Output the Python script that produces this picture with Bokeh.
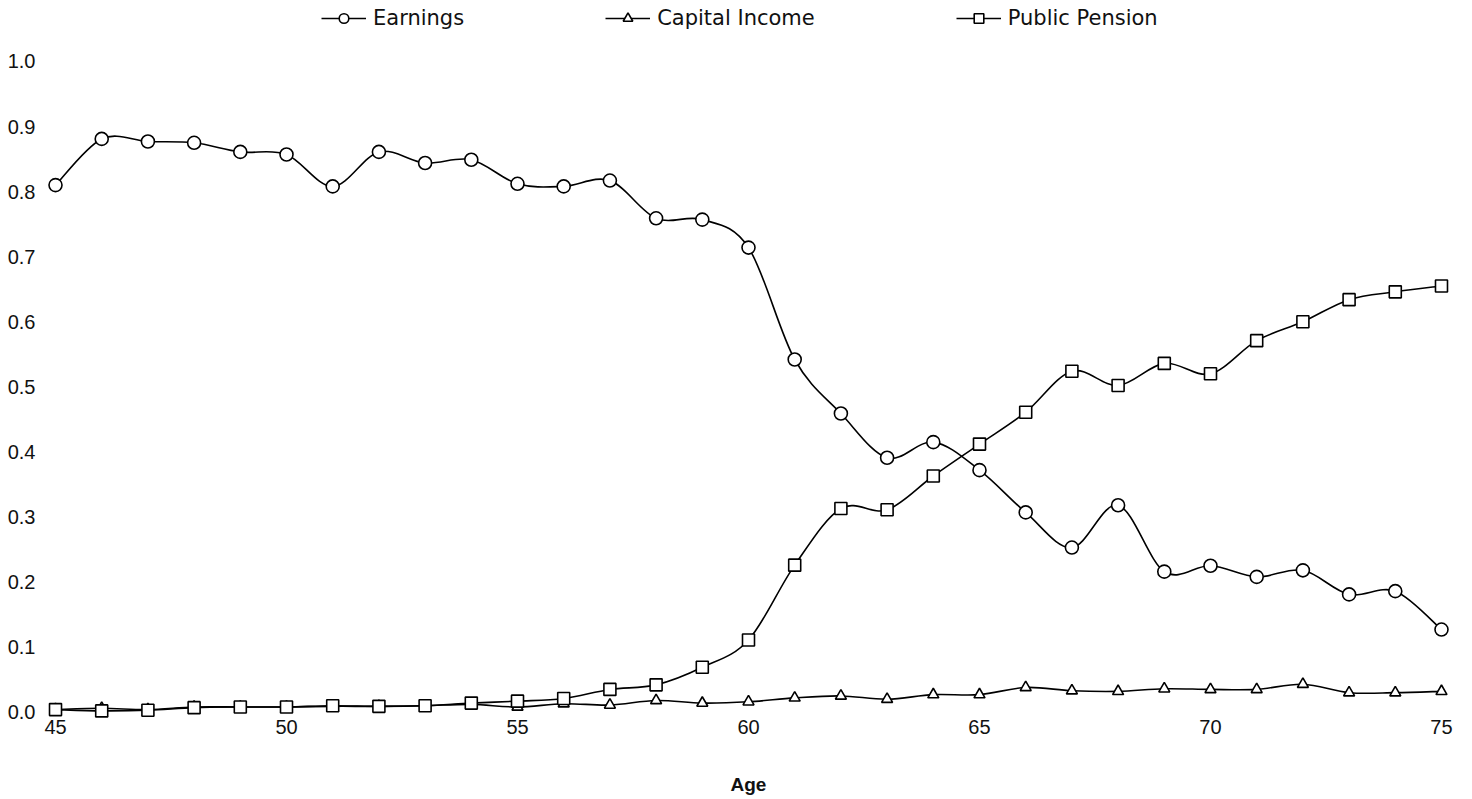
import numpy as np
from bokeh.plotting import figure
from bokeh.models import Range1d, FixedTicker, PrintfTickFormatter, Legend, LegendItem, ColumnDataSource
from bokeh.embed import file_html
from bokeh.resources import INLINE

ages = [45, 46, 47, 48, 49, 50, 51, 52, 53, 54, 55, 56, 57, 58, 59, 60,
        61, 62, 63, 64, 65, 66, 67, 68, 69, 70, 71, 72, 73, 74, 75]
earnings = [0.810, 0.881, 0.877, 0.875, 0.861, 0.857, 0.808, 0.861, 0.844, 0.849,
            0.812, 0.808, 0.817, 0.759, 0.757, 0.714, 0.542, 0.459, 0.391, 0.415,
            0.372, 0.307, 0.253, 0.318, 0.216, 0.225, 0.208, 0.218, 0.181, 0.186, 0.127]
capital_income = [0.004, 0.006, 0.004, 0.008, 0.008, 0.008, 0.009, 0.009, 0.010, 0.012,
                  0.008, 0.013, 0.011, 0.018, 0.014, 0.016, 0.022, 0.025, 0.020, 0.027,
                  0.027, 0.038, 0.033, 0.032, 0.036, 0.035, 0.035, 0.043, 0.030, 0.030, 0.032]
public_pension = [0.004, 0.002, 0.003, 0.007, 0.008, 0.008, 0.010, 0.009, 0.010, 0.014,
                  0.017, 0.021, 0.035, 0.042, 0.069, 0.111, 0.226, 0.313, 0.311, 0.363,
                  0.412, 0.461, 0.524, 0.502, 0.536, 0.520, 0.571, 0.600, 0.634, 0.646, 0.655]
x_ticks = [45, 50, 55, 60, 65, 70, 75]
y_ticks = [0.0, 0.1, 0.2, 0.3, 0.4, 0.5, 0.6, 0.7, 0.8, 0.9, 1.0]
series_names = ["Earnings", "Capital Income", "Public Pension"]

FONT = "Liberation Sans"

# frame spans the full figure height above the x axis so the legend sits inside it
p = figure(width=1472, height=799, output_backend="svg", toolbar_location=None,
           x_range=Range1d(44.805, 75.195), y_range=Range1d(-0.0143, 1.0937),
           min_border_left=46, min_border_right=22, min_border_top=0, min_border_bottom=78)
p.outline_line_color = None
p.background_fill_color = "white"
p.border_fill_color = "white"
p.xgrid.visible = False
p.ygrid.visible = False

for ax in (p.xaxis[0], p.yaxis[0]):
    ax.axis_line_color = None
    ax.major_tick_line_color = None
    ax.minor_tick_line_color = None
    ax.major_label_text_font = FONT
    ax.major_label_text_color = "#111111"
    ax.major_label_text_font_size = "20px"

p.xaxis.ticker = FixedTicker(ticks=x_ticks)
p.yaxis.ticker = FixedTicker(ticks=y_ticks)
p.yaxis.formatter = PrintfTickFormatter(format="%.1f")
p.xaxis.major_label_standoff = -8
p.yaxis.major_label_standoff = 5
p.xaxis.axis_label = "Age"
p.xaxis.axis_label_text_font = FONT
p.xaxis.axis_label_text_font_style = "bold"
p.xaxis.axis_label_text_font_size = "19px"
p.xaxis.axis_label_text_color = "#111111"
p.xaxis.axis_label_standoff = 37


def bezier_source(xs, ys):
    x = np.asarray(xs, dtype=float)
    y = np.asarray(ys, dtype=float)
    xp = np.concatenate([[x[0]], x, [x[-1]]])
    yp = np.concatenate([[y[0]], y, [y[-1]]])
    n = len(x)
    x0, y0 = x[:-1], y[:-1]
    x1, y1 = x[1:], y[1:]
    cx0 = x0 + (xp[2:n + 1] - xp[0:n - 1]) / 6.0
    cy0 = y0 + (yp[2:n + 1] - yp[0:n - 1]) / 6.0
    cx1 = x1 - (xp[3:n + 2] - xp[1:n]) / 6.0
    cy1 = y1 - (yp[3:n + 2] - yp[1:n]) / 6.0
    return ColumnDataSource(dict(x0=x0, y0=y0, x1=x1, y1=y1,
                                 cx0=cx0, cy0=cy0, cx1=cx1, cy1=cy1))


specs = [
    (capital_income, "triangle", 11),
    (public_pension, "square", 12),
    (earnings, "circle", 13),
]
renderers = {}
for vals, marker, size in specs:
    src = bezier_source(ages, vals)
    br = p.bezier(x0="x0", y0="y0", x1="x1", y1="y1", cx0="cx0", cy0="cy0",
                  cx1="cx1", cy1="cy1", source=src, line_color="black", line_width=1.6)
    sr = p.scatter(ages, vals, marker=marker, size=size, fill_color="white",
                   line_color="black", line_width=1.6)
    renderers[marker] = (br, sr)

items = []
for name, marker in zip(series_names, ["circle", "triangle", "square"]):
    items.append(LegendItem(label=name, renderers=list(renderers[marker])))

legend = Legend(items=items, orientation="horizontal", location=(275, 691),
                glyph_width=45, glyph_height=24, label_standoff=7, spacing=141,
                padding=0, margin=0, border_line_color=None, background_fill_alpha=0,
                label_text_font="DejaVu Sans", label_text_font_size="21px",
                label_text_color="#111111")
p.add_layout(legend, "center")

open("out.html", "w").write(file_html(p, INLINE))
